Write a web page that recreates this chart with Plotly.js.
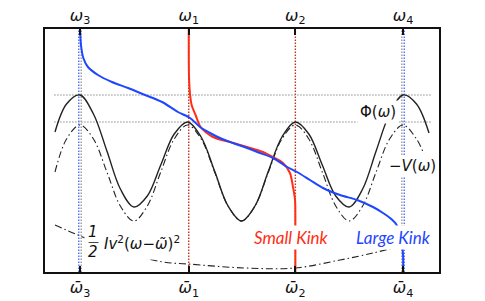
<!DOCTYPE html>
<html>
<head>
<meta charset="utf-8">
<script src="https://cdn.plot.ly/plotly-3.0.1.min.js"></script>
<style>html,body{margin:0;padding:0;background:#fff;}#chart{width:485px;height:301px;}</style>
</head>
<body>
<div id="chart"></div>
<script>
// ---- data (x in units of ω spacing, y = height above the bottom axis) ----
const omegaTicks = [0, 1.01, 2.0, 3.0];
const topLabels = ['<i>ω</i><sub>3</sub>', '<i>ω</i><sub>1</sub>', '<i>ω</i><sub>2</sub>', '<i>ω</i><sub>4</sub>'];
const barLabels = ['<i>ω\u0304</i><sub>3</sub>', '<i>ω\u0304</i><sub>1</sub>', '<i>ω\u0304</i><sub>2</sub>', '<i>ω\u0304</i><sub>4</sub>'];

const phiX = [-0.232,-0.125,0,0.125,0.25,0.375,0.5,0.625,0.75,0.875,1,1.125,1.25,1.375,1.5,1.625,1.75,1.875,2,2.125,2.25,2.375,2.5,2.625,2.75,2.875,3,3.125,3.241];
const phiY = [140,168,177,158,121,83,65,76,107,138,150,135,101,66,51,66,101,135,150,138,107,76,65,83,121,158,177,168,139];

const negVX = [-0.232,-0.125,0,0.125,0.25,0.375,0.5,0.625,0.75,0.875,1,1.125,1.25,1.375,1.5,1.625,1.75,1.875,2,2.125,2.25,2.375,2.5,2.625,2.75,2.875,3,3.125,3.186];
const negVY = [100,133,147,133,100,66,51,66,100,133,147,133,100,66,51,66,100,133,147,133,100,66,51,66,100,133,147,133,120];

const paraX = [-0.232,-0.019,0.37,0.771,1.003,1.532,1.997,2.415,2.721,2.944];
const paraY = [47,37,21,10,8,4,4,12,19,25];

const smallX = [1.01,1.012,1.02,1.037,1.077,1.12,1.235,1.393,1.551,1.70,1.79,1.885,1.95,1.978,1.997,2.0,2.0];
const smallY = [243,197,180,167,156,145,135,130,125,120,115,109,99,85,72,49,0];

const largeX = [0,0.009,0.031,0.074,0.167,0.297,0.446,0.604,0.762,0.910,1.022,1.115,1.207,1.30,1.421,1.551,1.672,1.793,1.923,2.015,2.136,2.257,2.415,2.573,2.721,2.814,2.879,2.935,2.981,3.0,3.0];
const largeY = [243,227,214,205,197,190,184,177,170,160,154,145,139,134,129,124,119,114,105,100,92,84,77,72,65,59,54,48,34,17,0];

const phiPeakLevels = [177, 150];
const guideXSpan = [-0.24, 3.27];
const yRange = [0, 243];
const xRange = [-0.325, 3.334];

// ---- traces ----
const dotGray = {color:'#8a8a8a', width:1.2, dash:'1.5px,1.5px'};
const traces = [];
const off = 0.011;
// vertical guides
omegaTicks.forEach((w, i) => {
  if (i === 0 || i === 3) {
    const gx = i === 0 ? w + off : w - off;
    const bx = i === 0 ? w - off : w + off;
    traces.push({x:[gx,gx], y:yRange, mode:'lines', line:dotGray, hoverinfo:'skip', showlegend:false});
    traces.push({x:[bx,bx], y:yRange, mode:'lines', line:{color:'#3355ff', width:1.2, dash:'1.5px,1.5px'}, hoverinfo:'skip', showlegend:false});
  } else {
    traces.push({x:[w,w], y:yRange, mode:'lines', line:{color:'#c8301e', width:1.4, dash:'1.5px,1.5px'}, hoverinfo:'skip', showlegend:false});
  }
});
// horizontal guides
phiPeakLevels.forEach(v => {
  traces.push({x:guideXSpan, y:[v,v], mode:'lines', line:dotGray, hoverinfo:'skip', showlegend:false});
});
traces.push({x:paraX, y:paraY, mode:'lines', line:{color:'#222', width:1.1, dash:'7px,3px,1.5px,3px', shape:'spline', smoothing:1}, hoverinfo:'skip', showlegend:false});
traces.push({x:negVX, y:negVY, mode:'lines', line:{color:'#222', width:1.1, dash:'7px,3px,1.5px,3px', shape:'spline', smoothing:1}, hoverinfo:'skip', showlegend:false});
traces.push({x:phiX, y:phiY, mode:'lines', line:{color:'#222', width:1.4, shape:'spline', smoothing:1}, hoverinfo:'skip', showlegend:false});
traces.push({x:smallX, y:smallY, mode:'lines', line:{color:'rgb(255,45,20)', width:2, shape:'spline', smoothing:0.8}, hoverinfo:'skip', showlegend:false});
traces.push({x:largeX, y:largeY, mode:'lines', line:{color:'rgb(30,70,255)', width:2, shape:'spline', smoothing:0.8}, hoverinfo:'skip', showlegend:false});
// top axis carrier
traces.push({x:omegaTicks, y:omegaTicks.map(()=>null), xaxis:'x2', yaxis:'y', mode:'lines', hoverinfo:'skip', showlegend:false});

const fam = 'Lato, "DejaVu Sans", sans-serif';
const axisCommon = {range:xRange, showgrid:false, zeroline:false, showline:true, linecolor:'#111', linewidth:2,
  ticks:'inside', ticklen:6, tickwidth:2, tickcolor:'#111', tickvals:omegaTicks, tickfont:{family:'"DejaVu Sans", sans-serif', size:16, color:'#111'}, fixedrange:true};

const layout = {
  width:485, height:301,
  margin:{l:45, r:46, t:29, b:29, pad:0},
  paper_bgcolor:'#fff', plot_bgcolor:'#fff',
  showlegend:false,
  xaxis:Object.assign({}, axisCommon, {ticktext:barLabels, side:'bottom'}),
  xaxis2:Object.assign({}, axisCommon, {ticktext:topLabels, side:'top', overlaying:'x'}),
  yaxis:{range:yRange, showgrid:false, zeroline:false, showline:true, mirror:true, linecolor:'#111', linewidth:2, showticklabels:false, ticks:'', fixedrange:true},
  annotations:[
    {x:2.963, y:160, xref:'x', yref:'y', xanchor:'right', yanchor:'middle', text:'Φ(<i>ω</i>)', showarrow:false, bgcolor:'#fff', borderpad:2, font:{family:'"DejaVu Sans", sans-serif', size:15, color:'#111'}},
    {x:3.084, y:106, xref:'x', yref:'y', xanchor:'center', yanchor:'middle', text:'−<i>V</i>(<i>ω</i>)', showarrow:false, bgcolor:'#fff', borderpad:1, font:{family:'"DejaVu Sans", sans-serif', size:15, color:'#111'}},
    {x:1.96, y:35, xref:'x', yref:'y', xanchor:'center', yanchor:'middle', text:'<i>Small Kink</i>', showarrow:false, bgcolor:'#fff', borderpad:1, font:{family:fam, size:17, color:'rgb(255,45,20)'}},
    {x:2.907, y:35, xref:'x', yref:'y', xanchor:'center', yanchor:'middle', text:'<i>Large Kink</i>', showarrow:false, bgcolor:'#fff', borderpad:1, font:{family:fam, size:17, color:'rgb(30,70,255)'}},
    {x:0.160, y:29, xref:'x', yref:'y', xanchor:'left', yanchor:'middle', text:'<i>Iv</i><sup>2</sup>(<i>ω</i>−<i>ω\u0303</i>)<sup>2</sup>', showarrow:false, bgcolor:'#fff', borderpad:6, font:{family:'"DejaVu Sans", sans-serif', size:15, color:'#111'}},
    {x:0.121, y:30, xref:'x', yref:'y', xanchor:'center', yanchor:'middle', text:'<i>1</i><br><i>2</i>', showarrow:false, bgcolor:'#fff', borderpad:3, font:{family:'"DejaVu Sans", sans-serif', size:15, color:'#111'}},
    {x:0.121, y:31, xref:'x', yref:'y', xanchor:'center', yanchor:'middle', text:'—', showarrow:false, font:{family:'"DejaVu Sans", sans-serif', size:11, color:'#111'}}
  ]
};

Plotly.newPlot('chart', traces, layout, {staticPlot:true, displayModeBar:false});
</script>
</body>
</html>
